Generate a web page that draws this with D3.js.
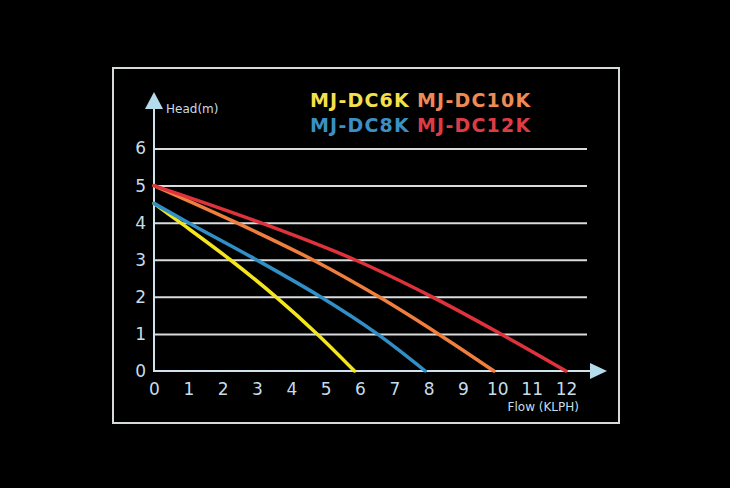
<!DOCTYPE html>
<html>
<head>
<meta charset="utf-8">
<script src="https://cdn.jsdelivr.net/npm/d3@7"></script>
<style>
  html, body { margin: 0; padding: 0; background: #000; }
  svg { display: block; }
  text { font-family: "DejaVu Sans", Verdana, sans-serif; }
</style>
</head>
<body>
<svg id="chart" width="730" height="488"></svg>
<script>
// pump curves, head (m) against flow (KLPH)
var models = ["MJ-DC6K", "MJ-DC8K", "MJ-DC10K", "MJ-DC12K"];
var flowDC6K  = [0, 0.77, 2.22, 3.55, 4.75, 5.84];
var headDC6K  = [4.52, 4, 3, 2, 1, 0];
var flowDC8K  = [0, 1.0, 2.98, 4.85, 6.5, 7.9];
var headDC8K  = [4.52, 4, 3, 2, 1, 0];
var flowDC10K = [0, 2.4, 4.62, 6.55, 8.28, 9.9];
var headDC10K = [5, 4, 3, 2, 1, 0];
var flowDC12K = [0, 3.1, 5.85, 8.1, 10.1, 12];
var headDC12K = [5, 4, 3, 2, 1, 0];
var xTicks = [0, 1, 2, 3, 4, 5, 6, 7, 8, 9, 10, 11, 12];
var yTicks = [0, 1, 2, 3, 4, 5, 6];

var lineColors = ["#f4e61e", "#2f8fc6", "#f07f3e", "#e0323c"];
var legendColors = ["#f3e04c", "#3a90c4", "#ee8a55", "#de3c45"];

var series = [
  { name: models[0], flow: flowDC6K, head: headDC6K },
  { name: models[1], flow: flowDC8K, head: headDC8K },
  { name: models[2], flow: flowDC10K, head: headDC10K },
  { name: models[3], flow: flowDC12K, head: headDC12K }
];

var svg = d3.select("#chart");

var x = d3.scaleLinear().domain([0, 12]).range([154, 566]);
var y = d3.scaleLinear().domain([0, 6]).range([371, 148.5]);

var axisColor = "#cfe3ec";
var labelColor = "#c6dde8";
var gridColor = "#d9dcdd";
var gridEnd = 587;

// frame
svg.append("rect")
  .attr("x", 113).attr("y", 68)
  .attr("width", 506).attr("height", 355)
  .attr("fill", "none")
  .attr("stroke", "#d6dada")
  .attr("stroke-width", 2);

// horizontal grid lines (1..6)
svg.append("g")
  .attr("transform", "translate(" + x(0) + ",0)")
  .call(d3.axisLeft(y).tickValues(yTicks.slice(1)).tickSize(-(gridEnd - x(0))).tickFormat(""))
  .call(function (g) {
    g.select(".domain").remove();
    g.selectAll(".tick line").attr("stroke", gridColor).attr("stroke-width", 2);
  });

// y tick labels
svg.append("g")
  .attr("transform", "translate(" + (x(0) - 8) + ",0)")
  .call(d3.axisLeft(y).tickValues(yTicks).tickFormat(d3.format("d")).tickSize(0).tickPadding(0))
  .call(function (g) {
    g.select(".domain").remove();
    g.selectAll(".tick text")
      .attr("fill", labelColor)
      .attr("font-size", 17)
      .attr("font-family", "DejaVu Sans, sans-serif");
  });

// x tick labels
svg.append("g")
  .attr("transform", "translate(0," + (y(0) + 6) + ")")
  .call(d3.axisBottom(x).tickValues(xTicks).tickFormat(d3.format("d")).tickSize(0).tickPadding(6))
  .call(function (g) {
    g.select(".domain").remove();
    g.selectAll(".tick text")
      .attr("fill", labelColor)
      .attr("font-size", 17)
      .attr("font-family", "DejaVu Sans, sans-serif");
  });

// axes with arrow heads
svg.append("line")
  .attr("x1", x(0) - 1).attr("x2", 590)
  .attr("y1", y(0)).attr("y2", y(0))
  .attr("stroke", axisColor).attr("stroke-width", 2);
svg.append("line")
  .attr("x1", x(0)).attr("x2", x(0))
  .attr("y1", y(0) + 1).attr("y2", 108)
  .attr("stroke", axisColor).attr("stroke-width", 2);

svg.append("path")
  .attr("d", "M590," + (y(0) - 8) + "L607," + y(0) + "L590," + (y(0) + 8) + "Z")
  .attr("fill", "#b3dbe9");
svg.append("path")
  .attr("d", "M" + (x(0) - 9) + ",109L" + x(0) + ",92L" + (x(0) + 9) + ",109Z")
  .attr("fill", "#b3dbe9");

// axis titles
svg.append("text")
  .attr("x", 166).attr("y", 113)
  .attr("fill", labelColor)
  .attr("font-size", 12)
  .text("Head(m)");
svg.append("text")
  .attr("x", 579).attr("y", 411)
  .attr("text-anchor", "end")
  .attr("fill", labelColor)
  .attr("font-size", 12)
  .text("Flow (KLPH)");

// curves
var line = d3.line()
  .x(function (d) { return x(d[0]); })
  .y(function (d) { return y(d[1]); })
  .curve(d3.curveCatmullRom.alpha(0.5));

series.forEach(function (s, i) {
  var pts = s.flow.map(function (f, j) { return [f, s.head[j]]; });
  svg.append("path")
    .datum(pts)
    .attr("d", line)
    .attr("fill", "none")
    .attr("stroke", lineColors[i])
    .attr("stroke-width", 3.5)
    .attr("stroke-linecap", "round");
});

// legend: two columns, two rows
var legendPos = [[310, 107], [310, 132], [417, 107], [417, 132]];
models.forEach(function (m, i) {
  svg.append("text")
    .attr("x", legendPos[i][0]).attr("y", legendPos[i][1])
    .attr("fill", legendColors[i])
    .attr("font-size", 19)
    .attr("font-weight", "bold")
    .attr("letter-spacing", 1.2)
    .text(m);
});
</script>
</body>
</html>
